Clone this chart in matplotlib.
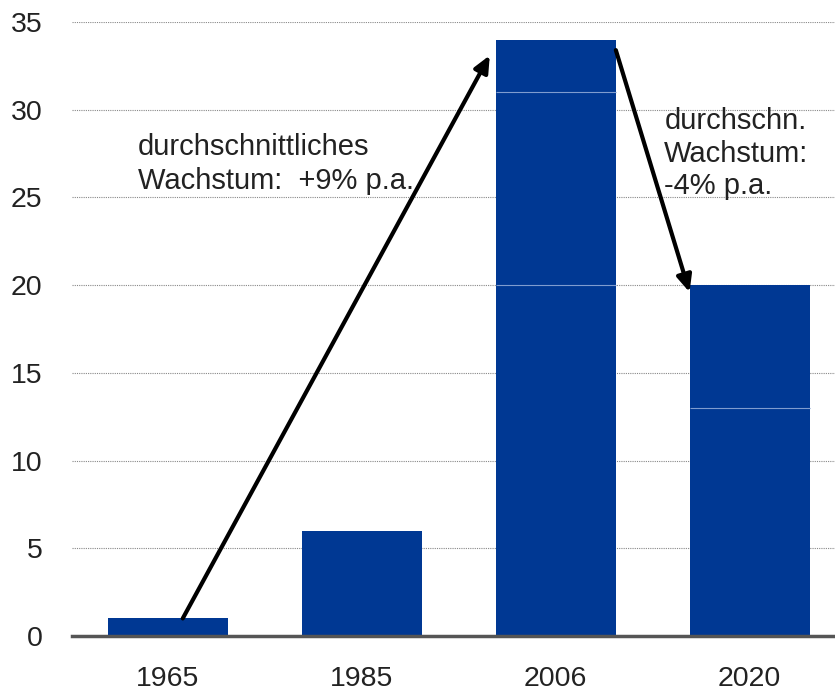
import matplotlib.pyplot as plt
import numpy as np

plt.rcParams['font.family'] = ['Liberation Sans', 'DejaVu Sans']

years = ['1965', '1985', '2006', '2020']
# gestapelte Anteile je Jahr (gleiche Farbe, nur feine Trennlinie)
seg1 = [1, 6, 20, 13]
seg2 = [0, 0, 11, 7]
seg3 = [0, 0, 3, 0]

fig = plt.figure(figsize=(8.35, 6.93), dpi=100)
ax = fig.add_axes([0.086, 0.0823, 0.914, 0.8859])

x = np.arange(len(years))
blue = '#003893'
w = 0.62
b1 = np.array(seg1)
b2 = b1 + np.array(seg2)
ax.bar(x, seg1, width=w, color=blue, lw=0, zorder=2)
ax.bar(x, seg2, width=w, bottom=b1, color=blue, lw=0, zorder=2)
ax.bar(x, seg3, width=w, bottom=b2, color=blue, lw=0, zorder=2)

# Trennlinien zwischen den Segmenten
for i in range(len(years)):
    for lvl, s in ((b1[i], seg2[i]), (b2[i], seg3[i])):
        if s > 0:
            ax.hlines(lvl, x[i] - w / 2, x[i] + w / 2, color='#7f9ccf', lw=0.8, zorder=3)

ax.set_xlim(-0.495, 3.44)
ax.set_ylim(0, 35)
ax.set_yticks(range(0, 36, 5))
ax.set_xticks(x)
ax.set_xticklabels(years)
ax.tick_params(length=0, labelsize=20.5, colors='#222222')
ax.tick_params(axis='y', pad=21)
ax.tick_params(axis='x', pad=21.5)
ax.yaxis.grid(True, linestyle=(0, (1, 1)), color='#888888', lw=0.8, zorder=0)
ax.set_axisbelow(True)
for s in ['left', 'right', 'top']:
    ax.spines[s].set_visible(False)
ax.spines['bottom'].set_color('#555555')
ax.spines['bottom'].set_linewidth(2.5)
ax.spines['bottom'].set_zorder(4)

arrow = dict(arrowstyle='-|>,head_length=1.0,head_width=0.45', color='black', lw=3, shrinkA=0, shrinkB=0)
ax.annotate('', xy=(1.66, 33.1), xytext=(0.077, 1.0), arrowprops=arrow, zorder=5)
ax.annotate('', xy=(2.69, 19.6), xytext=(2.31, 33.4), arrowprops=arrow, zorder=5)

ax.text(-0.155, 26.9, 'durchschnittliches\nWachstum:  +9% p.a.', fontsize=21, color='#222222',
        va='center', ha='left', linespacing=1.3)
ax.text(2.56, 27.5, 'durchschn.\nWachstum:\n-4% p.a.', fontsize=21, color='#222222',
        va='center', ha='left', linespacing=1.2)

fig.savefig('out.png', dpi=100)
